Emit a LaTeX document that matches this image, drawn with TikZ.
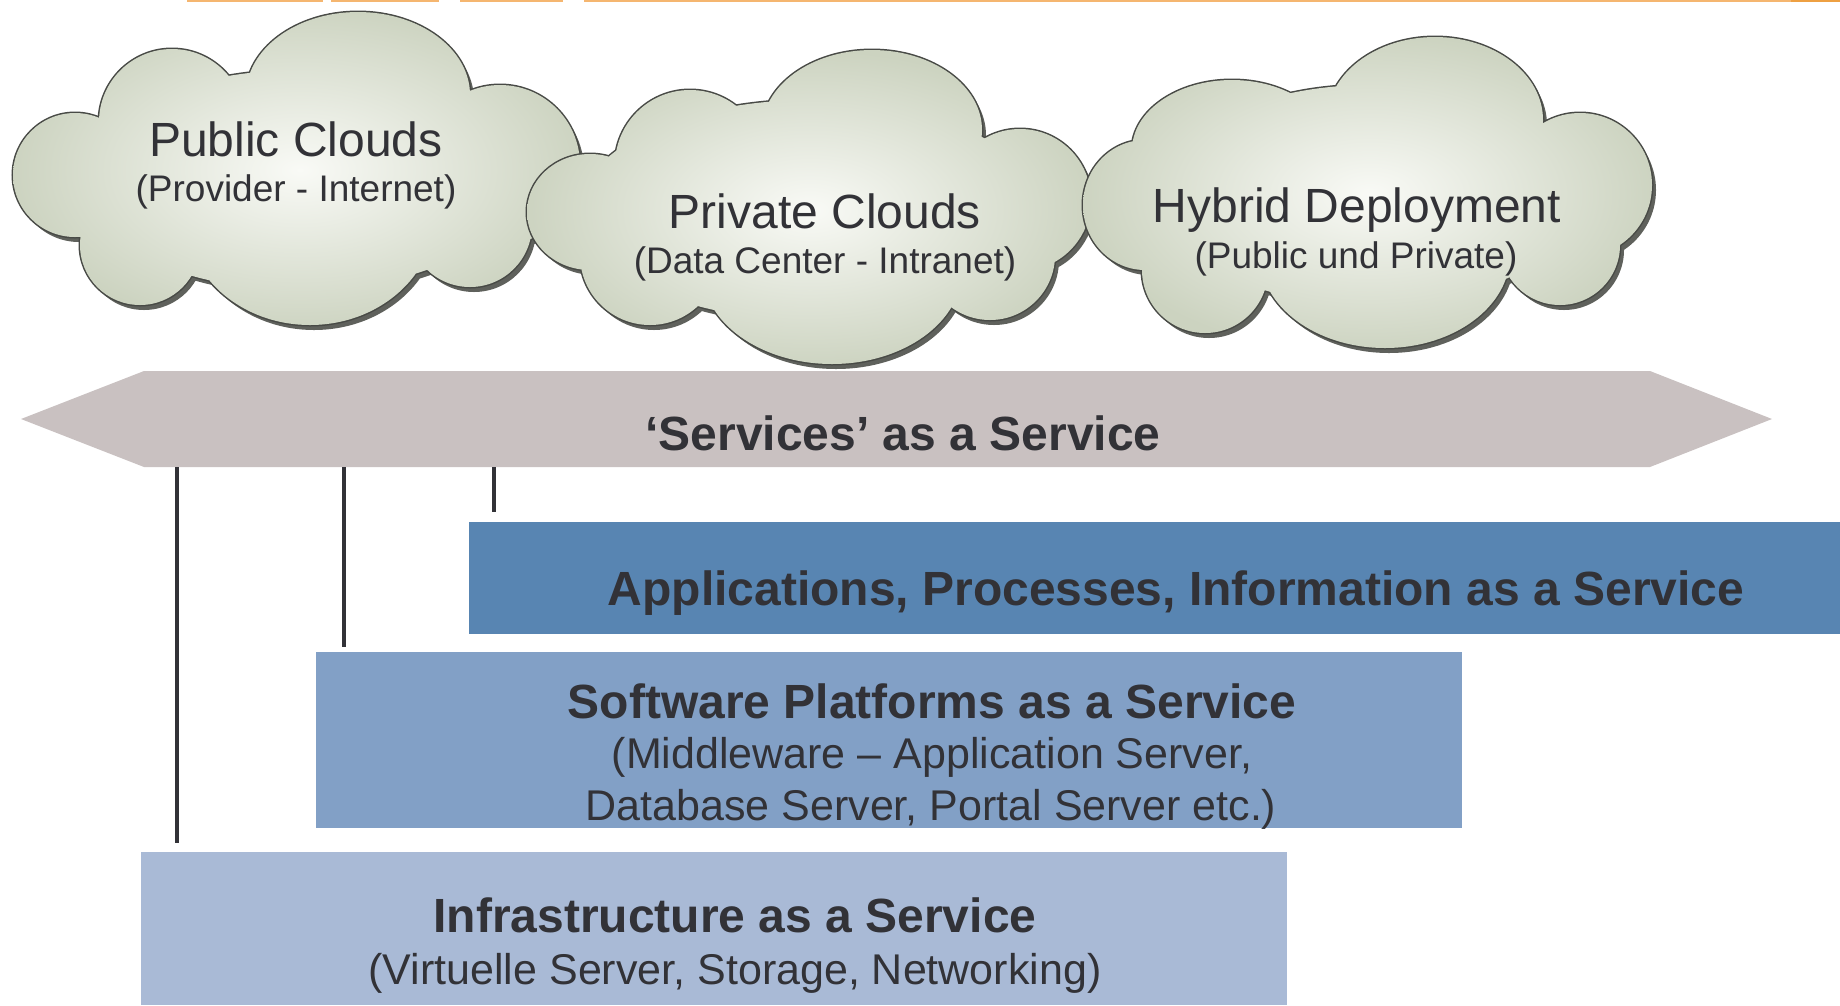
\documentclass[tikz,border=0pt]{standalone}
\usepackage{fontspec}
\setmainfont{Liberation Sans}
\usetikzlibrary{calc}
\definecolor{txt}{RGB}{50,50,55}
\definecolor{appsblue}{RGB}{88,133,178}
\definecolor{softblue}{RGB}{130,160,198}
\definecolor{infrablue}{RGB}{169,186,214}
\definecolor{bandgray}{RGB}{201,193,193}
\definecolor{cloudedge}{RGB}{72,74,70}
\definecolor{cloudshadow}{RGB}{95,97,92}
\definecolor{cloudouter}{RGB}{204,211,192}
\definecolor{cloudinner}{RGB}{249,250,246}
\definecolor{orangeline}{RGB}{245,182,112}
\definecolor{orangedark}{RGB}{238,160,66}
\newcommand{\cloudPub}{%
 (75,175) circle [radius=62]
 (172,122) circle [radius=73]
 (358,95) ellipse [x radius=112, y radius=83]
 (500,165) circle [radius=80]
 (470,225) circle [radius=62]
 (310,215) ellipse [x radius=125, y radius=110]
 (140,245) circle [radius=60]
 (300,180) ellipse [x radius=220, y radius=110]}
\newcommand{\cloudPriv}{%
 (590,212) ellipse [x radius=63, y radius=58]
 (690,165) circle [radius=75]
 (872,130) ellipse [x radius=110, y radius=80]
 (1020,200) circle [radius=71]
 (990,255) circle [radius=65]
 (832,270) ellipse [x radius=130, y radius=94]
 (650,255) circle [radius=70]
 (810,210) ellipse [x radius=230, y radius=110]}
\newcommand{\cloudHyb}{%
 (1145,205) ellipse [x radius=62, y radius=65]
 (1232,150) ellipse [x radius=100, y radius=70]
 (1435,120) ellipse [x radius=108, y radius=83]
 (1580,185) circle [radius=72]
 (1560,245) circle [radius=60]
 (1385,255) ellipse [x radius=125, y radius=93]
 (1205,270) circle [radius=63]
 (1370,195) ellipse [x radius=210, y radius=110]}
\tikzset{
  ttl/.style={font=\fontsize{48}{56}\selectfont, text=txt, inner sep=0pt, anchor=base},
  sub/.style={font=\fontsize{37}{44}\selectfont, text=txt, inner sep=0pt, anchor=base},
  boxsub/.style={font=\fontsize{43}{50}\selectfont, text=txt, inner sep=0pt, anchor=base},
  bttl/.style={font=\fontsize{48}{56}\selectfont\bfseries, text=txt, inner sep=0pt, anchor=base},
  layer/.style={inner sep=0pt, outer sep=0pt, anchor=north west},
  vline/.style={line width=3.5pt, draw=txt},
  cshadow/.style={fill=cloudshadow, shift={(4,5)}},
  cedge/.style={draw=cloudedge, line width=3pt},
  cshade/.style={inner color=cloudinner, outer color=cloudouter}
}
\begin{document}
\begin{tikzpicture}[x=1pt,y=-1pt]
\useasboundingbox (0,0) rectangle (1840,1005);
% top orange rule
\fill[orangeline] (187,0) rectangle (323,2);
\fill[orangeline] (331,0) rectangle (439,2);
\fill[orangeline] (460,0) rectangle (563,2);
\fill[orangeline] (584,0) rectangle (1791,2);
\fill[orangedark] (1791,0) rectangle (1840,2);
% public cloud
\fill[cshadow] \cloudPub;
\draw[cedge] \cloudPub;
\begin{scope}
\clip \cloudPub;
\shade[cshade] (10,5) rectangle (590,335);
\end{scope}
% private cloud
\fill[cshadow] \cloudPriv;
\draw[cedge] \cloudPriv;
\begin{scope}
\clip \cloudPriv;
\shade[cshade] (525,50) rectangle (1095,370);
\end{scope}
% hybrid cloud
\fill[cshadow] \cloudHyb;
\draw[cedge] \cloudHyb;
\begin{scope}
\clip \cloudHyb;
\shade[cshade] (1080,33) rectangle (1660,355);
\end{scope}
\node[ttl] (pubT) at (296,156) {Public Clouds};
\node[sub] (pubS) at (296,201) {(Provider - Internet)};
\node[ttl] (privT) at (825,228) {Private Clouds};
\node[sub] (privS) at (825,273) {(Data Center - Intranet)};
\node[ttl] (hybT) at (1357,222) {Hybrid Deployment};
\node[sub] (hybS) at (1356,268) {(Public und Private)};
% band
\coordinate (bandL) at (21,419);
\coordinate (bandTL) at (144,371);
\coordinate (bandTR) at (1650,371);
\coordinate (bandR) at (1772,419);
\coordinate (bandBR) at (1650,467);
\coordinate (bandBL) at (144,467);
\fill[bandgray] (bandL) -- (bandTL) -- (bandTR) -- (bandR) -- (bandBR) -- (bandBL) -- cycle;
\node[bttl] (bandT) at (903,450) {‘Services’ as a Service};
% layers
\node[layer, fill=appsblue, minimum width=1371pt, minimum height=112pt] (apps) at (469,522) {};
\node[layer, fill=softblue, minimum width=1146pt, minimum height=176pt] (soft) at (316,652) {};
\node[layer, fill=infrablue, minimum width=1146pt, minimum height=153pt] (infra) at (141,852) {};
\node[bttl] (appsT) at (1176,605) {Applications, Processes, Information as a Service};
\node[bttl] (softT) at (932,718) {Software Platforms as a Service};
\node[boxsub] (softS1) at (932,768) {(Middleware – Application Server,};
\node[boxsub] (softS2) at (931,820) {Database Server, Portal Server etc.)};
\node[bttl] (infraT) at (735,932) {Infrastructure as a Service};
\node[boxsub] (infraS) at (735,984) {(Virtuelle Server, Storage, Networking)};
% connectors
\coordinate (c1) at (177,467);
\coordinate (c2) at (344,467);
\coordinate (c3) at (494,467);
\draw[vline] (c1) -- ($(c1 |- infra.north)+(0,-9)$);
\draw[vline] (c2) -- ($(c2 |- soft.north)+(0,-5)$);
\draw[vline] (c3) -- ($(c3 |- apps.north)+(0,-10)$);
\end{tikzpicture}
\end{document}
